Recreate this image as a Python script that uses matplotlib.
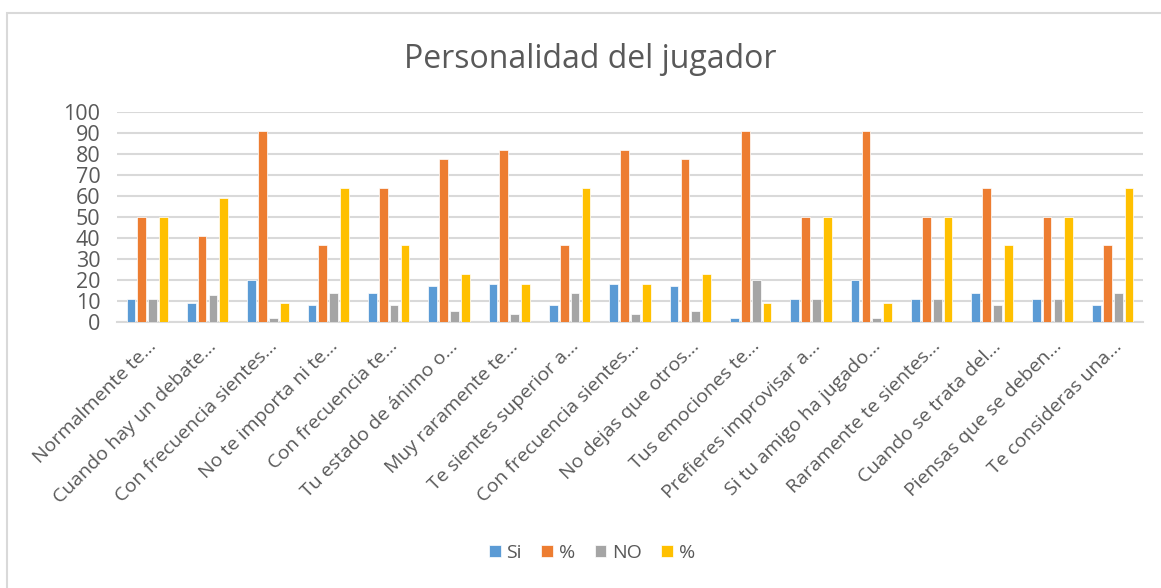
import numpy as np
import matplotlib.pyplot as plt
from matplotlib.patches import Rectangle

plt.rcParams['font.family'] = ['Open Sans', 'DejaVu Sans']

# datos
preguntas = ["Normalmente te...", "Cuando hay un debate...", "Con frecuencia sientes...",
             "No te importa ni te...", "Con frecuencia te...", "Tu estado de ánimo o...",
             "Muy raramente te...", "Te sientes superior a...", "Con frecuencia sientes...",
             "No dejas que otros...", "Tus emociones te...", "Prefieres improvisar a...",
             "Si tu amigo ha jugado...", "Raramente te sientes...", "Cuando se trata del...",
             "Piensas que se deben...", "Te consideras una..."]
si = [11, 9, 20, 8, 14, 17, 18, 8, 18, 17, 2, 11, 20, 11, 14, 11, 8]
pct_si = [50, 40.9, 90.9, 36.4, 63.6, 77.3, 81.8, 36.4, 81.8, 77.3, 90.9, 50, 90.9, 50, 63.6, 50, 36.4]
no = [11, 13, 2, 14, 8, 5, 4, 14, 4, 5, 20, 11, 2, 11, 8, 11, 14]
pct_no = [50, 59.1, 9.1, 63.6, 36.4, 22.7, 18.2, 63.6, 18.2, 22.7, 9.1, 50, 9.1, 50, 36.4, 50, 63.6]

series = [(si, "Si", "#5b9bd5"), (pct_si, "%", "#ed7d31"),
          (no, "NO", "#a5a5a5"), (pct_no, "%", "#ffc000")]

W, H = 1161, 588
fig = plt.figure(figsize=(W / 100, H / 100), dpi=100)

# marco del area del grafico
fig.patches.append(Rectangle((7 / W, -0.05), 1.1, 1 - 13 / H + 0.05, transform=fig.transFigure,
                             fill=False, edgecolor="#d9d9d9", linewidth=1.5))

ax = fig.add_axes([117 / W, 1 - 322 / H, (1143 - 117) / W, (322 - 111.7) / H])

x = np.arange(len(preguntas))
paso = 0.18
ancho = 0.145
for i, (vals, nombre, color) in enumerate(series):
    ax.bar(x + (i - 1.5) * paso, vals, ancho, color=color, label=nombre,
           edgecolor="white", linewidth=0.5, zorder=3)

ax.set_xlim(-0.5, len(preguntas) - 0.5)
ax.set_ylim(0, 100)
ax.set_yticks(range(0, 101, 10))
ax.yaxis.grid(True, color="#d9d9d9", linewidth=1.5, zorder=0)
for s in ["top", "right", "left"]:
    ax.spines[s].set_visible(False)
ax.spines["bottom"].set_color("#d9d9d9")
ax.spines["bottom"].set_linewidth(1.5)
ax.tick_params(length=0, colors="#595959", labelsize=15.5)
ax.tick_params(axis="y", pad=12)
ax.set_xticks(x)
ax.set_xticklabels(preguntas, rotation=45, ha="right", rotation_mode="anchor", fontsize=14,
                   color="#595959")
ax.tick_params(axis="x", pad=11)

fig.text(590 / W, 1 - 60 / H, "Personalidad del jugador", ha="center", va="center",
         fontsize=23, color="#595959")

ax.legend(loc="center", bbox_to_anchor=(592 / W, 1 - 553 / H), bbox_transform=fig.transFigure,
          ncol=4, frameon=False, fontsize=14, handlelength=0.6, handleheight=0.6,
          handletextpad=0.3, columnspacing=1.0, labelcolor="#595959")

fig.savefig("out.png", dpi=100)
